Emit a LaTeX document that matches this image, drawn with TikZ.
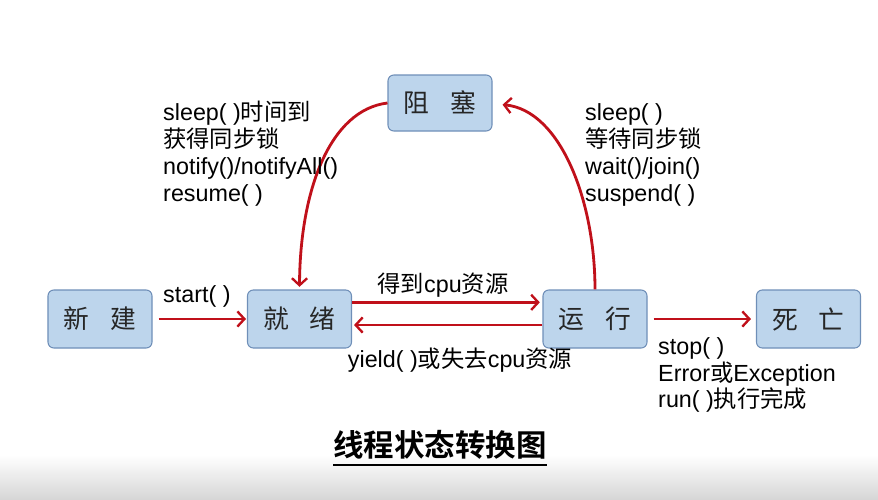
\documentclass[tikz,border=0pt]{standalone}
\usepackage{fontspec}
\setmainfont{Liberation Sans}
\newfontfamily\cjk{Noto Sans CJK SC}
\newfontfamily\cjkbold{Noto Sans CJK SC Bold}
\usetikzlibrary{arrows.meta}
\definecolor{boxfill}{HTML}{BDD5EC}
\definecolor{boxline}{HTML}{6F8FB8}
\definecolor{arrowred}{HTML}{C0101A}
\newcommand{\zh}[1]{{\cjk #1}}
\tikzset{
  state/.style={draw=boxline, fill=boxfill, rounded corners=5pt, line width=0.9pt,
    minimum width=3.12cm, minimum height=1.74cm, inner sep=0pt,
    font=\cjk\fontsize{22}{24}\selectfont, text=black!85},
  trans/.style={draw=arrowred, line width=2.4pt, -{Straight Barb[length=6pt,width=13pt,line width=2pt]}},
  lbl/.style={inner sep=0pt, font=\fontsize{19.9}{23}\selectfont, align=left}
}
\begin{document}
\begin{tikzpicture}[x=0.03cm,y=-0.03cm]
            \useasboundingbox (0,0) rectangle (878,499);
            \shade [top color=white, bottom color=black!16] (0,455) rectangle (878,499);
            % states
            \node [state] (xj) at (100,319) {新\hspace{0.8em}建};
            \node [state] (jx) at (299.5,319) {就\hspace{0.8em}绪};
            \node [state] (yx) at (595,319) {运\hspace{0.8em}行};
            \node [state] (sw) at (808.5,319) {死\hspace{0.8em}亡};
            \node [state, minimum height=1.68cm] (zs) at (440,103) {阻\hspace{0.8em}塞};
            % transitions
            \draw [trans, shorten <=0.18cm] (xj.east) -- (jx.east -| 246,0);
            \draw [trans] ([yshift=0.5cm]jx.east) -- ([yshift=0.5cm,xshift=-0.08cm]yx.west);
            \draw [trans] ([yshift=-0.18cm]yx.west) -- ([yshift=-0.18cm,xshift=0.06cm]jx.east);
            \draw [trans, shorten <=0.18cm] (yx.east) -- ([xshift=-0.15cm]sw.west);
            \draw [trans] (zs.west) .. controls (330,110) and (300,190) .. ([yshift=0.08cm]jx.north);
            \draw [trans] (yx.north) .. controls (595,200) and (560,110) .. ([xshift=0.3cm,yshift=-0.05cm]zs.east);
            % labels
            \node [lbl, anchor=west] (lstart) at (163,296) {start( )};
            \node [lbl, anchor=center] (lget) at (443,285) {\zh{得到}cpu\zh{资源}};
            \node [lbl, anchor=center] (lyield) at (460,360) {yield( )\zh{或失去}cpu\zh{资源}};
            \node [lbl, anchor=west] (lwake) at (163,154) {sleep( )\zh{时间到}\\ \zh{获得同步锁}\\ notify()/notifyAll()\\ resume( )};
            \node [lbl, anchor=west] (lblock) at (585,155) {sleep( )\\ \zh{等待同步锁}\\ wait()/join()\\ suspend( )};
            \node [lbl, anchor=west] (ldead) at (658,375) {stop( )\\ Error\zh{或}Exception\\ run( )\zh{执行完成}};
            % title
            \node [inner sep=0pt, font=\cjkbold\fontsize{26}{28}\selectfont] (title) at (440,445) {线程状态转换图};
            \draw [line width=1.2pt] (title.south west |- 0,465) -- (title.south east |- 0,465);
        \end{tikzpicture}
\end{document}
